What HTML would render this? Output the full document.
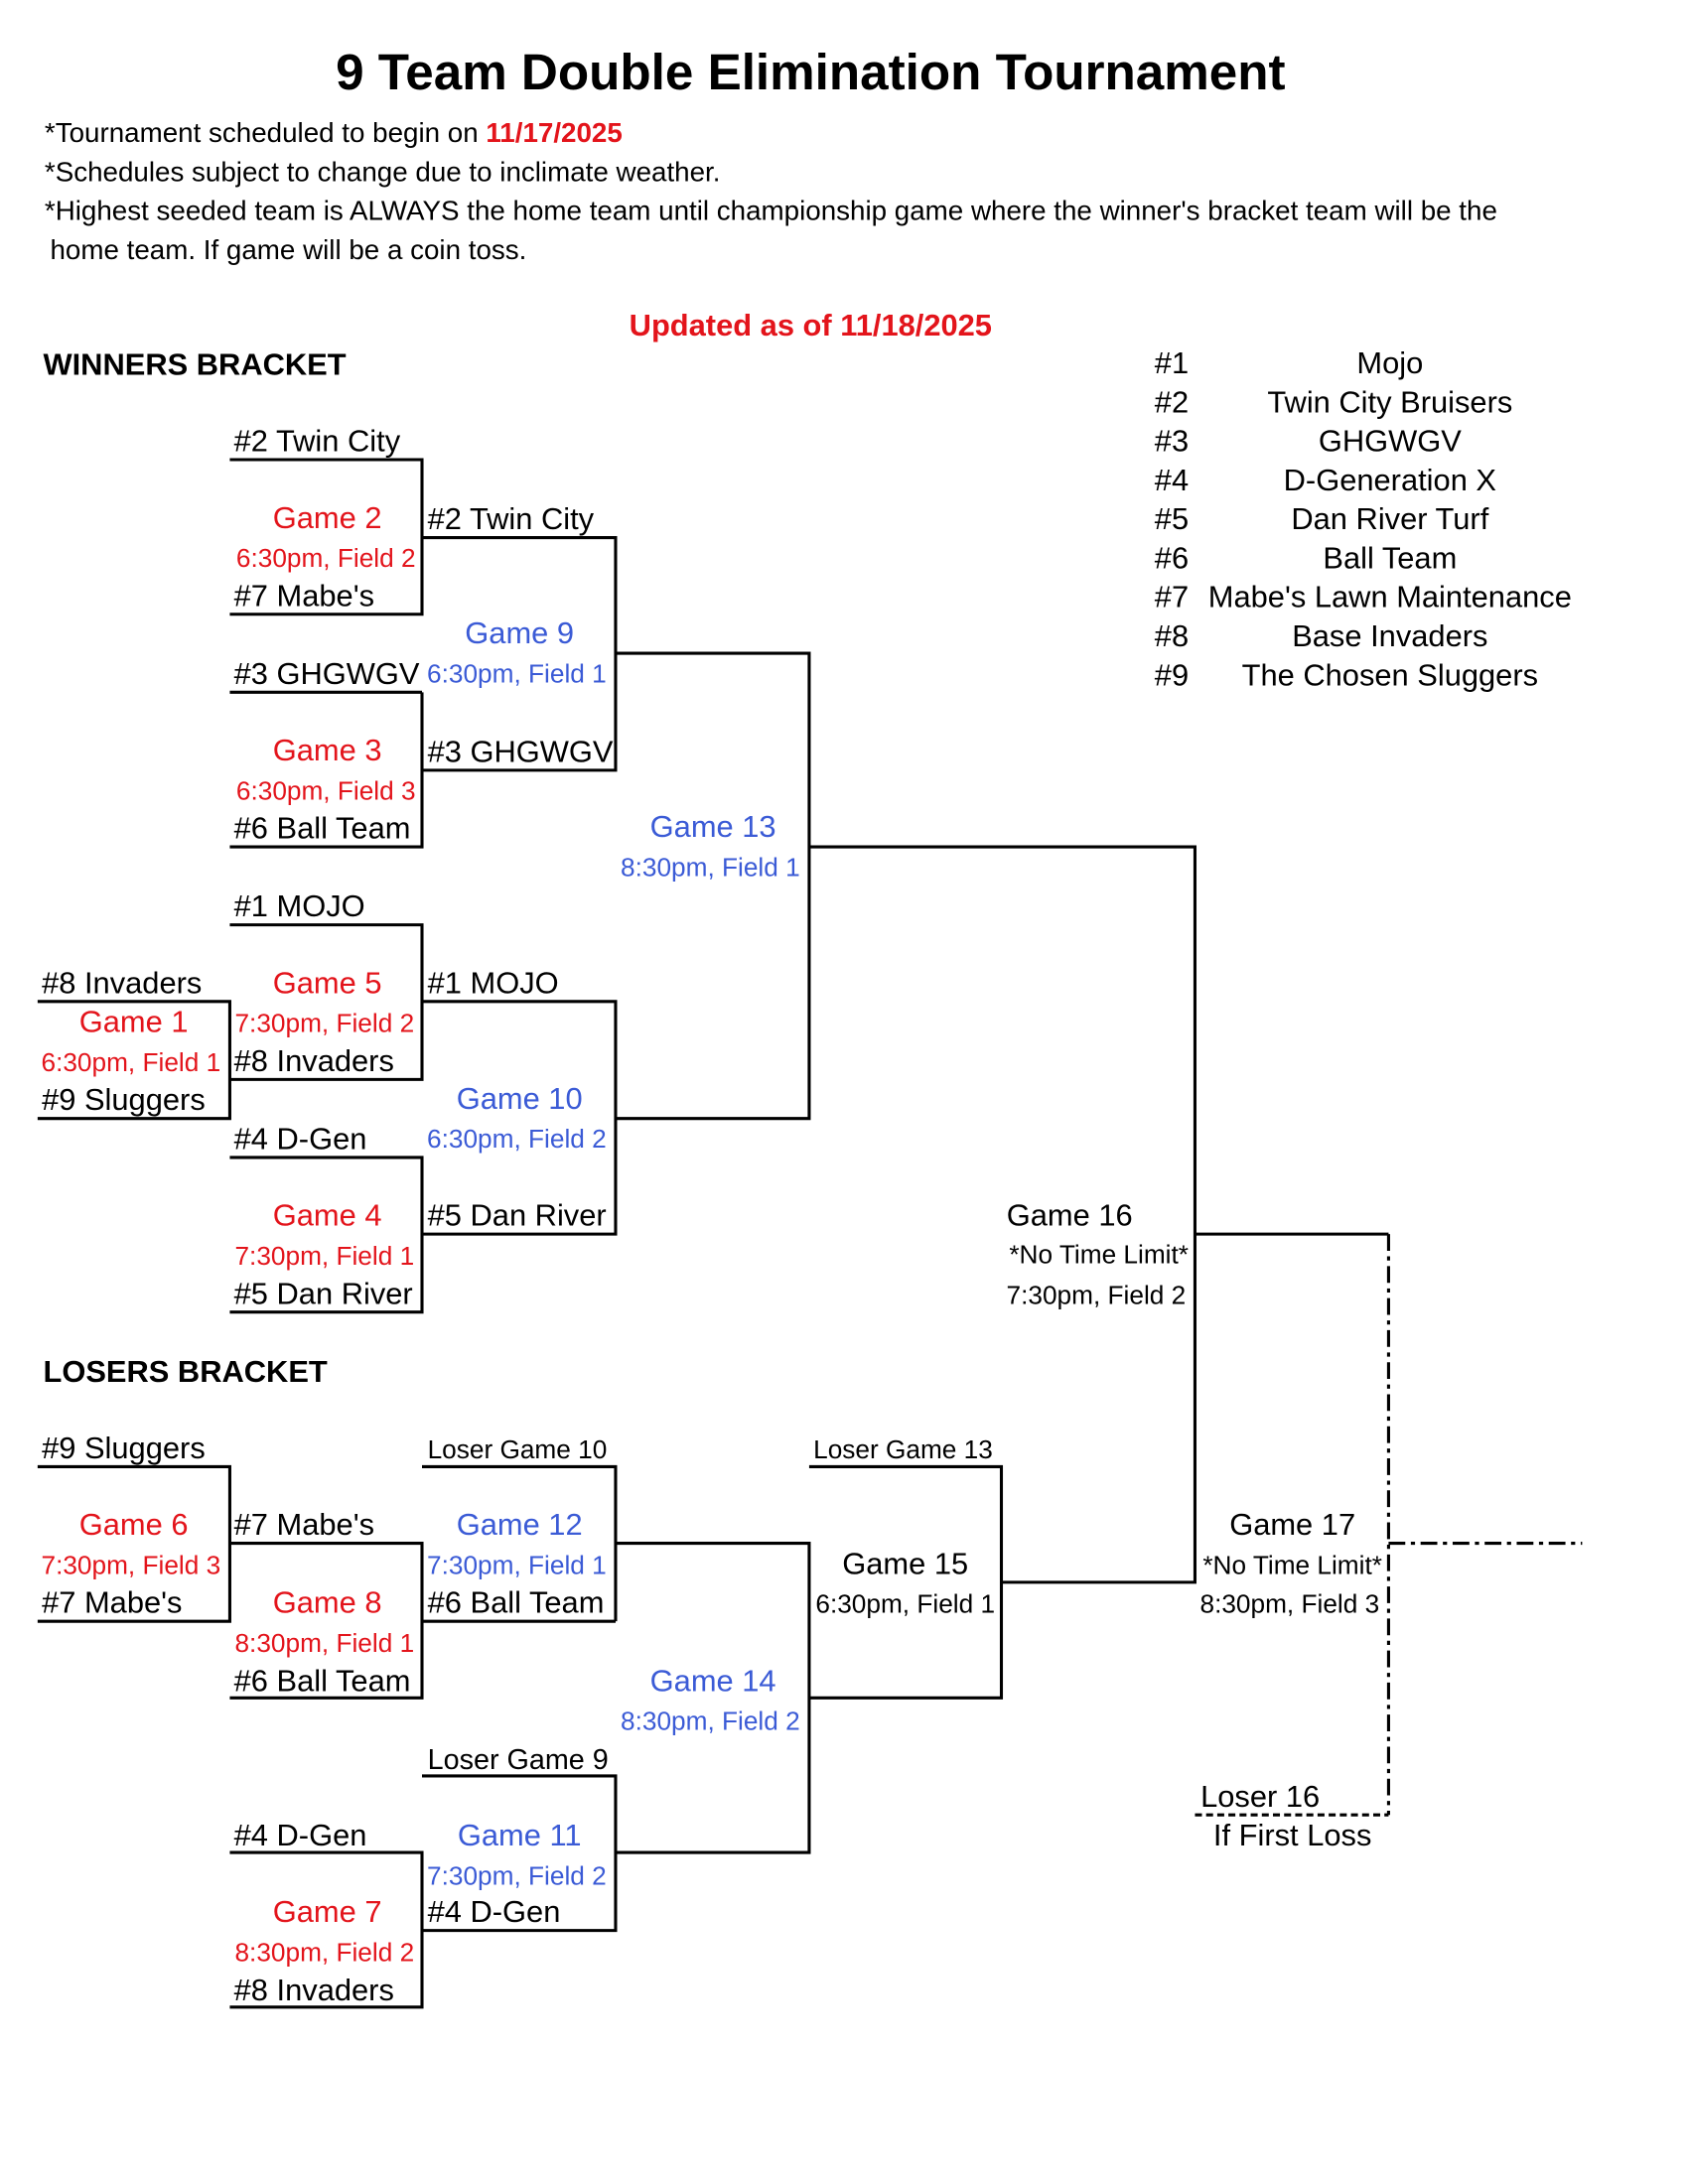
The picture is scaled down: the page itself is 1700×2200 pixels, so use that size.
<!DOCTYPE html>
<html><head><meta charset="utf-8"><style>
html,body{margin:0;padding:0;background:#fff;}
svg{display:block;}
text{font-family:"Liberation Sans",Arial,sans-serif;}
.t{font-size:22px;fill:#000;}
.s{font-size:18.7px;}
.r{fill:#e3141b;}
.b{fill:#3b5bd6;}
.c{text-anchor:middle;}
</style></head><body>
<svg width="1700" height="2200" viewBox="0 0 1212 1568" preserveAspectRatio="none" xmlns="http://www.w3.org/2000/svg">
<text x="582" y="64" class="c" style="font-size:36.5px;font-weight:bold">9 Team Double Elimination Tournament</text>
<text x="32" y="102" style="font-size:19.8px">*Tournament scheduled to begin on <tspan style="fill:#e3141b;font-weight:bold">11/17/2025</tspan></text>
<text x="32" y="130" style="font-size:19.8px">*Schedules subject to change due to inclimate weather.</text>
<text x="32" y="158" style="font-size:19.8px">*Highest seeded team is ALWAYS the home team until championship game where the winner's bracket team will be the</text>
<text x="36" y="186" style="font-size:19.8px">home team.  If game will be a coin toss.</text>
<text x="582" y="241" class="c r" style="font-size:22px;font-weight:bold">Updated as of 11/18/2025</text>
<text x="31" y="269" style="font-size:22px;font-weight:bold">WINNERS BRACKET</text>
<text x="31" y="992" style="font-size:22px;font-weight:bold">LOSERS BRACKET</text>

<g class="t">
<text x="829" y="268">#1</text><text x="998" y="268" class="c">Mojo</text>
<text x="829" y="296">#2</text><text x="998" y="296" class="c">Twin City Bruisers</text>
<text x="829" y="324">#3</text><text x="998" y="324" class="c">GHGWGV</text>
<text x="829" y="352">#4</text><text x="998" y="352" class="c">D-Generation X</text>
<text x="829" y="380">#5</text><text x="998" y="380" class="c">Dan River Turf</text>
<text x="829" y="408">#6</text><text x="998" y="408" class="c">Ball Team</text>
<text x="829" y="436">#7</text><text x="998" y="436" class="c">Mabe's Lawn Maintenance</text>
<text x="829" y="464">#8</text><text x="998" y="464" class="c">Base Invaders</text>
<text x="829" y="492">#9</text><text x="998" y="492" class="c">The Chosen Sluggers</text>
</g>

<g stroke="#000" stroke-width="2.2" fill="none">
<path d="M165 330H303V441H165M303 386H442V553H303M303 497H165M303 497V608H165M442 469H581V803H442"/>
<path d="M165 664H303V775H165M303 719H442V886H303M165 831H303V942H165M27 719H165V803H27"/>
<path d="M581 608H858V1136H719M858 886H997"/>
<path d="M27 1053H165V1164H27M165 1108H303V1219H165M303 1164H442M303 1053H442V1164M442 1108H581V1330H442"/>
<path d="M165 1330H303V1441H165M303 1386H442V1275H303M581 1219H719V1053H581"/>
</g>
<g stroke="#000" stroke-width="2.2" fill="none">
<path d="M997 886V1303" stroke-dasharray="12,4,3,4"/>
<path d="M997 1108H1136" stroke-dasharray="12,4,3,4"/>
<path d="M858 1303H997" stroke-dasharray="5,3"/>
</g>

<g class="t">
<text x="168" y="324">#2 Twin City</text>
<text x="235" y="379" class="c r">Game 2</text>
<text x="234" y="407" class="c r s">6:30pm, Field 2</text>
<text x="168" y="435">#7 Mabe's</text>
<text x="307" y="380">#2 Twin City</text>
<text x="373" y="462" class="c b">Game 9</text>
<text x="371" y="490" class="c b s">6:30pm, Field 1</text>
<text x="168" y="491">#3 GHGWGV</text>
<text x="235" y="546" class="c r">Game 3</text>
<text x="234" y="574" class="c r s">6:30pm, Field 3</text>
<text x="168" y="602">#6 Ball Team</text>
<text x="307" y="547">#3 GHGWGV</text>
<text x="512" y="601" class="c b">Game 13</text>
<text x="510" y="629" class="c b s">8:30pm, Field 1</text>
<text x="168" y="658">#1 MOJO</text>
<text x="235" y="713" class="c r">Game 5</text>
<text x="233" y="741" class="c r s">7:30pm, Field 2</text>
<text x="168" y="769">#8 Invaders</text>
<text x="307" y="713">#1 MOJO</text>
<text x="30" y="713">#8 Invaders</text>
<text x="96" y="741" class="c r">Game 1</text>
<text x="94" y="769" class="c r s">6:30pm, Field 1</text>
<text x="30" y="797">#9 Sluggers</text>
<text x="168" y="825">#4 D-Gen</text>
<text x="373" y="796" class="c b">Game 10</text>
<text x="371" y="824" class="c b s">6:30pm, Field 2</text>
<text x="235" y="880" class="c r">Game 4</text>
<text x="233" y="908" class="c r s">7:30pm, Field 1</text>
<text x="168" y="936">#5 Dan River</text>
<text x="307" y="880">#5 Dan River</text>
<text x="768" y="880" class="c">Game 16</text>
<text x="789" y="907" class="c s">*No Time Limit*</text>
<text x="787" y="936" class="c s">7:30pm, Field 2</text>

<text x="30" y="1047">#9 Sluggers</text>
<text x="96" y="1102" class="c r">Game 6</text>
<text x="94" y="1130" class="c r s">7:30pm, Field 3</text>
<text x="30" y="1158">#7 Mabe's</text>
<text x="307" y="1047" class="s">Loser Game 10</text>
<text x="168" y="1102">#7 Mabe's</text>
<text x="373" y="1102" class="c b">Game 12</text>
<text x="371" y="1130" class="c b s">7:30pm, Field 1</text>
<text x="307" y="1158">#6 Ball Team</text>
<text x="235" y="1158" class="c r">Game 8</text>
<text x="233" y="1186" class="c r s">8:30pm, Field 1</text>
<text x="168" y="1214">#6 Ball Team</text>
<text x="584" y="1047" class="s">Loser Game 13</text>
<text x="650" y="1130" class="c">Game 15</text>
<text x="650" y="1158" class="c s">6:30pm, Field 1</text>
<text x="512" y="1214" class="c b">Game 14</text>
<text x="510" y="1242" class="c b s">8:30pm, Field 2</text>
<text x="307" y="1270" style="font-size:20.5px">Loser Game 9</text>
<text x="168" y="1325">#4 D-Gen</text>
<text x="373" y="1325" class="c b">Game 11</text>
<text x="371" y="1353" class="c b s">7:30pm, Field 2</text>
<text x="307" y="1380">#4 D-Gen</text>
<text x="235" y="1380" class="c r">Game 7</text>
<text x="233" y="1408" class="c r s">8:30pm, Field 2</text>
<text x="168" y="1436">#8 Invaders</text>
<text x="928" y="1102" class="c">Game 17</text>
<text x="928" y="1130" class="c s">*No Time Limit*</text>
<text x="926" y="1158" class="c s">8:30pm, Field 3</text>
<text x="862" y="1297">Loser 16</text>
<text x="928" y="1325" class="c">If First Loss</text>
</g>
</svg>
</body></html>
